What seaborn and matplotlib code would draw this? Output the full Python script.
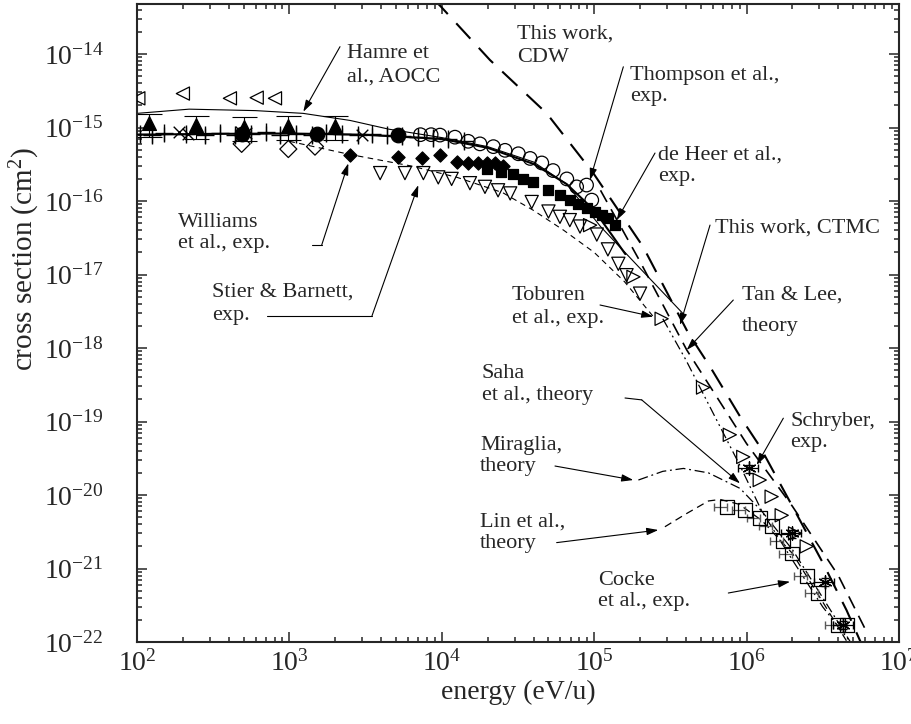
import numpy as np
import pandas as pd
import matplotlib
matplotlib.use("Agg")
import matplotlib.pyplot as plt
import matplotlib.ticker as mticker
import seaborn as sns

# energy in eV/u, cross section in cm^2

# --- experiments ---
lt_E = [102, 200, 407, 610, 804]
lt_s = [2.5e-15, 2.9e-15, 2.5e-15, 2.55e-15, 2.5e-15]

plus_E = [105, 125, 150, 210, 280, 350, 440, 560, 700, 870, 1100, 1400,
          1750, 2200, 2800, 3500, 4400, 5500, 7000, 8800, 11000, 14000]
plus_s = [8.2e-16, 8.0e-16, 8.4e-16, 8.3e-16, 8.0e-16, 8.5e-16, 7.8e-16,
          8.2e-16, 8.6e-16, 8.0e-16, 8.3e-16, 8.0e-16, 8.4e-16, 8.1e-16,
          8.0e-16, 8.2e-16, 7.9e-16, 7.6e-16, 7.5e-16, 7.3e-16, 7.0e-16, 6.6e-16]

x_E = [190, 215, 480, 520, 3000]
x_s = [8.6e-16, 8.3e-16, 8.8e-16, 8.4e-16, 7.8e-16]

tri_E = [119, 245, 501, 977, 1995]
tri_s = [1.14e-15, 1.08e-15, 1.02e-15, 1.05e-15, 1.05e-15]

dot_E = [486, 1514, 5190]
dot_s = [8.3e-16, 8.3e-16, 7.9e-16]

odia_E = [486, 984, 1472]
odia_s = [6.0e-16, 5.1e-16, 5.5e-16]

williams_E = [2500, 5190, 7380, 9730, 12500, 14900, 17400, 19700, 22400, 25100]
williams_s = [4.2e-16, 4.0e-16, 3.8e-16, 4.2e-16, 3.4e-16, 3.3e-16, 3.3e-16,
              3.3e-16, 3.3e-16, 3.0e-16]

stier_E = [3940, 5730, 7570, 9480, 11600, 15300, 19200, 23400, 28100, 38900,
           50100, 59600, 69200, 80700, 104000, 123000, 144000, 163000, 200000]
stier_s = [2.4e-16, 2.4e-16, 2.4e-16, 2.1e-16, 2.0e-16, 1.75e-16, 1.56e-16,
           1.4e-16, 1.27e-16, 9.7e-17, 7.2e-17, 6.1e-17, 5.5e-17, 4.5e-17,
           3.5e-17, 2.2e-17, 1.4e-17, 9.8e-18, 5.5e-18]

thompson_E = [7240, 8510, 9730, 12200, 14900, 17800, 21800, 26000, 31800,
              38000, 45300, 53700, 66100, 76700, 89100, 96400]
thompson_s = [8.0e-16, 8.0e-16, 7.9e-16, 7.4e-16, 6.5e-16, 6.0e-16, 5.5e-16,
              4.9e-16, 4.4e-16, 3.8e-16, 3.3e-16, 2.6e-16, 2.0e-16, 1.56e-16,
              1.65e-16, 1.03e-16]

deheer_E = [19700, 24500, 29500, 34300, 39800, 50100, 59600, 69200, 78700,
            89100, 101000, 112000, 124000, 137000]
deheer_s = [2.7e-16, 2.5e-16, 2.3e-16, 2.0e-16, 1.8e-16, 1.4e-16, 1.2e-16,
            1.03e-16, 9.1e-17, 8.0e-17, 7.2e-17, 6.4e-17, 5.8e-17, 4.7e-17]

toburen_E = [94000, 181000, 277000, 518000, 776000, 951000, 1.22e6, 1.46e6,
             1.70e6, 2.08e6, 2.48e6]
toburen_s = [4.7e-17, 9.3e-18, 2.5e-18, 2.9e-19, 6.6e-20, 3.3e-20, 1.6e-20,
             9.5e-21, 5.3e-21, 3.0e-21, 2.0e-21]

schryber_E = [1.03e6, 1.98e6, 3.27e6, 4.32e6]
schryber_s = [2.3e-20, 3.0e-21, 6.6e-22, 1.7e-22]

cocke_E = [7.4e5, 9.77e5, 1.22e6, 1.46e6, 1.73e6, 1.98e6, 2.48e6, 2.95e6,
           3.98e6, 4.53e6]
cocke_s = [6.9e-21, 6.3e-21, 4.8e-21, 3.8e-21, 2.4e-21, 1.6e-21, 7.9e-22,
           4.7e-22, 1.7e-22, 1.7e-22]

# --- theory curves ---
hamre_E = [100, 220, 600, 1230, 2500, 4500, 10000, 20000, 40000, 66000,
           110000, 205000, 385000]
hamre_s = [1.56e-15, 1.78e-15, 1.70e-15, 1.56e-15, 1.25e-15, 9.5e-16, 7.3e-16,
           5.5e-16, 3.4e-16, 1.7e-16, 4.5e-17, 1.15e-17, 2.9e-18]

ctmc_E = [100, 300, 1000, 3000, 10000, 20000, 40000, 66000, 100000, 130000, 160000]
ctmc_s = [8.0e-16, 8.2e-16, 8.3e-16, 8.0e-16, 7.0e-16, 5.3e-16, 3.2e-16,
          1.7e-16, 7.5e-17, 3.5e-17, 1.9e-17]

cdw_E = [7940, 9890, 20700, 48800, 98600, 209000, 414000, 575000, 906000,
         1.22e6, 2.0e6, 3.16e6, 4.53e6, 5.6e6]
cdw_s = [7e-14, 4.4e-14, 8.3e-15, 1.56e-15, 2.4e-16, 2.4e-17, 1.6e-18, 5.6e-19,
         1.17e-19, 4.6e-20, 7e-21, 1.2e-21, 2.7e-22, 1.0e-22]

tanlee_E = [110000, 200000, 405000, 1.0e6, 2.0e6, 4.0e6, 6.0e6]
tanlee_s = [1.4e-16, 1.5e-17, 9.4e-19, 5e-20, 7e-21, 8e-22, 1.5e-22]

saha_E = [282000, 398000, 603000, 906000, 1.26e6, 2.0e6, 3.16e6, 4.8e6]
saha_s = [2.5e-18, 7e-19, 1.3e-19, 2.5e-20, 6e-21, 1.3e-21, 3e-22, 1e-22]

miraglia_E = [195000, 282000, 385000, 562000, 906000, 1.26e6, 2.0e6, 3.16e6, 4.8e6]
miraglia_s = [1.6e-20, 2.1e-20, 2.3e-20, 2.0e-20, 1.23e-20, 6e-21, 1.8e-21,
              4e-22, 1e-22]

lin_E = [291000, 398000, 562000, 670000, 891000, 1.26e6, 2.0e6, 3.16e6, 4.57e6]
lin_s = [3.7e-21, 5.5e-21, 8.3e-21, 8.7e-21, 7.5e-21, 4.5e-21, 1.6e-21,
         3.5e-22, 1e-22]

wdash_E = [1000, 2500, 6300, 12600, 25100, 39800, 63100, 100000, 158000, 251000]
wdash_s = [6.5e-16, 4.3e-16, 3.0e-16, 2.1e-16, 1.3e-16, 7.5e-17, 4e-17, 2e-17,
           8e-18, 2.5e-18]

x_ticks = [1e2, 1e3, 1e4, 1e5, 1e6, 1e7]
y_ticks = [1e-22, 1e-21, 1e-20, 1e-19, 1e-18, 1e-17, 1e-16, 1e-15, 1e-14]

# --- labels: (lines, x, baselines) ---
labels = [
    (["Hamre et", "al., AOCC"], 2377, [8.73e-15, 4.20e-15]),
    (["This work,", "CDW"], 31000, [1.64e-14, 7.85e-15]),
    (["Thompson et al.,", "exp."], 171800, [4.42e-15, 2.3e-15]),
    (["de Heer et al.,", "exp."], 263600, [3.72e-16, 1.87e-16]),
    (["This work, CTMC"], 620700, [3.78e-17]),
    (["Tan & Lee,", "theory"], 929000, [4.50e-18, 1.70e-18]),
    (["Toburen", "et al., exp."], 28900, [4.50e-18, 2.19e-18]),
    (["Schryber,", "exp."], 1.928e6, [8.69e-20, 4.50e-20]),
    (["Saha", "et al., theory"], 18280, [3.91e-19, 1.97e-19]),
    (["Miraglia,", "theory"], 17810, [4.09e-20, 2.12e-20]),
    (["Lin et al.,", "theory"], 17810, [3.78e-21, 1.90e-21]),
    (["Cocke", "et al., exp."], 105900, [5.97e-22, 3.09e-22]),
    (["Williams", "et al., exp."], 186.6, [4.47e-17, 2.30e-17]),
    (["Stier & Barnett,", "exp."], 309, [4.99e-18, 2.40e-18]),
]

# leaders: list of (E, sigma) points, arrow at the last one
leaders = [
    [(2148, 1.26e-14), (1234, 1.64e-15)],
    [(155300, 6.71e-15), (93800, 1.93e-16)],
    [(250600, 4.5e-16), (140500, 5.5e-17)],
    [(575400, 4.71e-17), (365600, 2.06e-18)],
    [(818000, 4.5e-18), (404500, 9.4e-19)],
    [(109200, 3.85e-18), (244300, 2.67e-18)],
    [(1.742e6, 1.11e-19), (1.165e6, 2.56e-20)],
    [(159300, 2.09e-19), (205000, 1.97e-19), (905500, 1.44e-20)],
    [(55300, 2.48e-20), (180600, 1.6e-20)],
    [(56700, 2.25e-21), (263600, 3.34e-21)],
    [(758600, 4.64e-22), (1.928e6, 6.61e-22)],
    [(1401, 2.52e-17), (1629, 2.52e-17), (2436, 3.26e-16)],
    [(713, 2.75e-18), (3484, 2.75e-18), (7015, 1.65e-16)],
]

sns.set_style("ticks")
plt.rcParams['font.family'] = ['Liberation Serif', 'DejaVu Serif']
plt.rcParams['mathtext.fontset'] = 'custom'
plt.rcParams['mathtext.rm'] = 'Liberation Serif'
plt.rcParams['mathtext.it'] = 'Liberation Serif:italic'

fig = plt.figure(figsize=(9.11, 7.24), dpi=100)
ax = fig.add_axes([137 / 911, 1 - 642 / 724, 762 / 911, 638 / 724])
ax.set_xscale('log')
ax.set_yscale('log')


def curve(E, s, lw, ls):
    sns.lineplot(x=E, y=s, ax=ax, color='k', lw=lw, linestyle=ls,
                 estimator=None, sort=False)


curve(hamre_E, hamre_s, 0.8, '-')
curve(ctmc_E, ctmc_s, 1.5, '-')
curve(cdw_E, cdw_s, 1.5, (0, (10, 6)))
curve(tanlee_E, tanlee_s, 1.2, (0, (8, 5)))
curve(saha_E, saha_s, 0.9, (0, (8, 3, 1.5, 3, 1.5, 3)))
curve(miraglia_E, miraglia_s, 0.9, (0, (8, 3, 1.5, 3)))
curve(lin_E, lin_s, 0.9, (0, (6, 4)))
curve(wdash_E, wdash_s, 0.8, (0, (5, 4)))

# error bars
tri_err = [np.array(tri_s) * 0.35, np.array(tri_s) * 0.35]
ax.errorbar(tri_E, tri_s, yerr=tri_err, fmt='none', ecolor='k', elinewidth=0.8,
            capsize=9, capthick=0.8)
ax.errorbar(plus_E, plus_s, yerr=np.array(plus_s) * 0.22, fmt='none', ecolor='k',
            elinewidth=0.9)
ax.errorbar(cocke_E, cocke_s, xerr=[np.array(cocke_E) * 0.18, np.array(cocke_E) * 0.0],
            fmt='none', ecolor='0.35', elinewidth=0.9, capsize=3)
ax.errorbar(schryber_E, schryber_s, xerr=np.array(schryber_E) * 0.15,
            yerr=np.array(schryber_s) * 0.12, fmt='none', ecolor='k',
            elinewidth=0.9, capsize=3)


def points(E, s, marker, size, filled, lw=0.9):
    fc = 'k' if filled else 'none'
    sns.scatterplot(x=E, y=s, ax=ax, marker=marker, s=size, color='k',
                    facecolor=fc, edgecolor='k', linewidth=lw, zorder=3)


points(lt_E, lt_s, '<', 90, False)
points(plus_E, plus_s, '+', 150, True, 1.0)
points(x_E, x_s, 'x', 70, True, 1.0)
points(tri_E, tri_s, '^', 100, True)
points(dot_E, dot_s, 'o', 110, True)
points(odia_E, odia_s, 'D', 75, False)
points(williams_E, williams_s, 'D', 45, True)
points(stier_E, stier_s, 'v', 90, False)
points(thompson_E, thompson_s, 'o', 95, False)
points(deheer_E, deheer_s, 's', 45, True)
points(toburen_E, toburen_s, '>', 90, False)
points(schryber_E, schryber_s, (6, 2, 0), 90, True, 1.0)
points(cocke_E, cocke_s, 's', 100, False)

for lines, xe, ys in labels:
    for t, yb in zip(lines, ys):
        ax.text(xe, yb, t, fontsize=16, ha='left', va='baseline')

for pts in leaders:
    if len(pts) > 2:
        ax.plot([p[0] for p in pts[:-1]], [p[1] for p in pts[:-1]], color='k', lw=0.8)
    ax.annotate("", xy=pts[-1], xytext=pts[-2],
                arrowprops=dict(arrowstyle="-|>,head_length=0.7,head_width=0.22",
                                color='k', lw=0.8, shrinkA=0, shrinkB=0))

ax.set_xticks(x_ticks)
ax.set_yticks(y_ticks)
ax.xaxis.set_minor_locator(mticker.LogLocator(base=10, subs=np.arange(2, 10), numticks=12))
ax.yaxis.set_minor_locator(mticker.LogLocator(base=10, subs=np.arange(2, 10), numticks=12))
ax.xaxis.set_minor_formatter(mticker.NullFormatter())
ax.yaxis.set_minor_formatter(mticker.NullFormatter())
ax.set_xlim(1e2, 1e7)
ax.set_ylim(1e-22, 4.8e-14)
ax.tick_params(which='both', direction='in', top=True, right=True, width=1.1,
               labelsize=20)
ax.tick_params(which='major', length=7)
ax.tick_params(which='minor', length=3.5)
ax.tick_params(axis='y', pad=24)
ax.tick_params(axis='x', pad=6)
for sp in ax.spines.values():
    sp.set_linewidth(1.5)

ax.set_xlabel("energy (eV/u)", fontsize=20, labelpad=2)
ax.set_ylabel("cross section (cm$^2$)", fontsize=21)
ax.yaxis.set_label_coords(-0.125, 0.60)

fig.savefig("out.png", dpi=100)
